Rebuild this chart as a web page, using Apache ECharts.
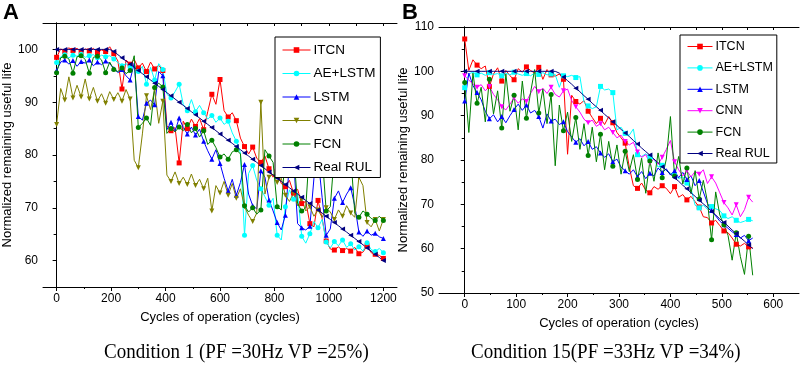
<!DOCTYPE html>
<html>
<head>
<meta charset="utf-8">
<script src="https://cdn.jsdelivr.net/npm/echarts@6/dist/echarts.min.js"></script>
<style>
html, body { margin: 0; padding: 0; background: #fff; }
#chart { width: 803px; height: 378px; }
</style>
</head>
<body>
<div id="chart"></div>
<script>
// sample grid of the traces (cycles)
var cyclesA = [];
for (var c = 0; c <= 1200; c += 15) cyclesA.push(c);
var cyclesB = [];
for (var c = 0; c <= 560; c += 8) cyclesB.push(c);

var names = ['ITCN', 'AE+LSTM', 'LSTM', 'CNN', 'FCN', 'Real RUL'];

// ---- Condition 1 ----
var itcnA = [98.5,100.1,99.6,100.3,99.8,100.2,99.5,100.1,99.7,100.2,99.4,99.9,99.6,100.5,99.2,97.8,92.5,98.0,97.2,98.1,
  96.5,97.4,95.8,97.6,96.3,97.0,96.0,85.5,84.6,85.2,78.5,86.4,85.0,86.8,85.4,86.9,84.8,88.2,91.5,89.6,
  94.3,88.4,87.2,88.0,86.5,83.2,81.6,80.2,81.5,79.4,78.6,79.8,77.4,75.8,76.9,74.6,74.0,75.2,72.8,73.5,
  70.8,71.2,67.0,66.4,71.4,68.0,63.7,62.2,62.0,62.6,61.9,62.3,61.8,62.5,61.3,61.6,62.8,61.5,61.2,61.0,60.4];
var aeA = [97.5,98.6,99.0,98.4,98.9,98.7,99.1,98.5,98.8,99.0,98.4,98.9,98.6,98.8,98.2,97.5,96.9,97.3,96.6,97.0,
  95.8,96.8,93.4,96.6,94.2,97.3,96.2,91.5,90.8,92.0,93.4,89.6,88.4,90.5,88.2,89.4,88.0,86.8,87.5,86.2,
  87.0,85.8,86.4,84.2,82.6,80.4,64.8,76.5,78.0,75.2,73.6,72.1,70.5,71.8,64.8,63.9,70.2,73.4,71.6,72.8,
  64.6,63.3,65.1,67.4,66.2,67.8,63.5,62.4,63.6,62.8,63.9,62.5,63.2,62.0,62.6,61.8,63.4,62.1,61.7,62.3,61.5];
var lstmA = [96.0,97.6,98.0,97.2,97.9,96.8,97.7,97.4,98.0,96.9,97.6,97.1,97.8,97.3,96.4,95.6,96.2,95.0,94.2,97.4,
  87.3,86.6,89.8,90.4,89.5,95.8,95.0,84.8,86.2,84.5,87.0,85.2,84.0,85.3,83.8,84.9,82.6,80.8,79.2,81.0,
  78.4,75.6,73.2,75.4,72.4,74.8,78.2,72.6,70.4,69.8,77.0,75.8,71.5,69.4,67.2,65.8,68.6,78.4,79.4,67.0,
  66.2,65.8,66.5,75.6,79.6,72.0,64.8,66.0,71.8,73.2,71.0,72.6,73.8,70.4,65.4,64.6,65.6,64.8,65.2,64.5,64.2];
var cnnA = [85.8,92.6,90.4,94.8,90.8,93.2,91.0,94.4,90.6,92.8,90.2,91.6,89.8,92.0,90.5,91.8,90.2,92.4,90.6,79.0,
  77.6,84.0,91.2,88.6,92.4,86.0,90.2,76.2,75.0,76.8,74.6,75.8,74.4,76.4,74.2,75.4,73.6,75.6,69.4,74.2,
  72.8,75.0,72.4,74.6,71.8,73.6,70.2,68.6,67.4,69.0,90.0,72.6,75.8,76.4,74.8,75.6,72.4,71.2,72.8,70.4,
  71.6,69.4,70.2,68.4,69.6,68.2,70.0,69.2,67.8,69.6,68.4,70.4,69.0,68.2,75.8,74.2,67.2,66.4,67.8,65.6,67.8];
var fcnA = [95.6,98.4,98.7,98.2,95.5,98.6,98.8,98.1,95.5,98.5,98.7,98.0,95.6,97.6,96.2,95.8,96.5,95.4,96.0,98.8,
  85.2,86.0,87.0,85.6,92.8,93.6,92.9,84.1,85.0,84.4,85.3,84.6,85.8,84.2,85.0,83.4,84.6,82.0,82.8,81.4,
  79.6,80.2,79.2,80.6,81.0,80.2,70.4,69.2,70.0,68.8,69.6,81.0,79.8,78.6,70.2,69.6,80.4,81.8,80.6,70.8,
  69.4,70.0,82.2,80.8,81.4,80.2,69.4,70.2,80.2,79.8,80.1,79.6,80.0,69.0,68.2,69.4,68.8,68.0,67.6,68.4,67.6];
var realA = [100,100,100,100,100,100,100,100,100,100,100,100,100,100,99.6,99.0,98.4,97.8,97.2,96.6,
  96.0,95.4,94.8,94.2,93.6,93.0,92.4,91.8,91.2,90.6,90.0,89.4,88.8,88.2,87.6,87.0,86.4,85.8,85.2,84.6,
  84.0,83.4,82.8,82.2,81.6,81.0,80.4,79.8,79.2,78.6,78.0,77.4,76.8,76.2,75.6,75.0,74.4,73.8,73.2,72.6,
  72.0,71.4,70.8,70.2,69.6,69.0,68.4,67.8,67.2,66.6,66.0,65.4,64.8,64.2,63.6,63.0,62.4,61.8,61.2,60.6,60.0];

// ---- Condition 15 ----
var itcnB = [107.3,100.2,102.6,101.4,100.6,101.2,96.6,99.4,100.8,97.8,100.2,99.0,98.1,100.6,99.8,101.0,100.2,99.6,100.9,98.2,
  100.4,99.2,98.9,99.4,98.2,81.3,94.6,93.2,92.6,93.4,91.0,89.6,88.2,89.4,88.0,89.8,88.4,86.2,85.0,83.8,
  78.4,74.2,73.6,74.8,73.2,72.6,74.0,73.4,74.2,73.6,72.4,74.0,71.6,72.2,71.0,71.8,70.6,69.4,67.2,67.0,
  65.8,66.4,65.2,64.0,63.6,62.4,61.0,60.6,61.2,60.4,60.2];
var aeB = [96.3,99.4,99.8,99.2,99.6,99.1,99.7,99.3,99.5,99.0,99.6,99.2,99.8,99.4,99.1,99.5,99.0,99.6,99.3,99.7,
  99.2,99.4,99.3,96.4,99.0,98.8,99.1,98.6,98.8,93.0,92.2,91.6,92.0,96.6,95.8,96.0,95.2,86.8,87.4,86.0,
  85.6,87.0,81.2,80.8,81.4,80.6,80.2,78.4,78.8,77.6,77.0,76.6,75.8,76.2,74.8,73.6,69.8,69.2,69.8,68.9,
  69.5,69.0,68.6,67.4,66.8,67.2,66.4,65.9,66.2,66.6,66.3];
var lstmB = [93.3,99.6,96.8,95.2,93.6,91.0,89.3,90.2,88.6,89.8,88.4,90.0,91.4,92.6,91.2,92.4,90.6,91.2,89.8,87.2,
  90.4,88.8,89.2,88.0,88.6,86.4,85.2,84.0,84.8,83.2,84.2,82.4,83.0,81.6,80.6,81.4,79.6,80.2,78.4,77.6,
  76.8,77.8,76.2,77.4,75.8,77.0,76.4,78.2,77.2,78.0,76.6,77.6,76.0,77.2,75.6,76.4,74.2,75.4,72.8,70.2,
  68.6,67.4,66.2,65.4,64.6,63.8,63.2,62.4,63.0,61.8,62.4];
var cnnB = [99.0,98.0,97.2,96.4,97.0,95.6,96.6,94.8,93.6,92.0,91.3,92.6,94.0,92.8,93.8,93.2,95.0,96.6,95.4,96.2,
  95.0,96.4,94.8,94.2,95.6,96.0,93.4,92.0,90.8,89.2,88.4,89.0,87.6,88.2,86.8,87.4,86.2,85.0,85.6,84.2,
  83.4,84.0,81.8,80.6,81.2,79.4,80.2,79.0,80.6,82.4,84.4,79.6,77.8,76.4,77.6,76.2,77.4,76.8,77.8,74.7,
  76.2,74.8,72.6,70.4,69.2,67.6,69.9,67.2,68.8,71.6,70.5];
var fcnB = [97.5,86.2,99.6,92.8,96.4,88.6,98.2,90.4,95.6,87.2,99.4,91.0,94.6,86.8,97.8,89.4,95.2,100.4,90.6,96.0,
  88.2,94.8,78.7,92.4,86.6,90.8,84.2,89.6,82.4,88.2,81.0,87.4,79.6,85.8,77.8,84.2,78.6,83.4,76.8,82.0,
  77.4,81.2,75.6,80.4,72.5,79.8,75.2,81.6,76.0,80.2,89.8,76.4,80.8,74.6,78.2,72.4,77.6,71.2,75.4,70.6,
  62.0,72.8,67.6,65.4,63.0,57.4,63.6,58.2,54.2,62.8,54.0];
var realB = [100,100,100,100,100,100,100,100,100,100,100,100,100,100,100,100,100,100,100,100,
  100,100,100,99.6,98.7,97.9,97.1,96.2,95.4,94.5,93.7,92.8,92.0,91.2,90.3,89.5,88.6,87.8,86.9,86.1,
  85.3,84.4,83.6,82.7,81.9,81.1,80.2,79.4,78.5,77.7,76.8,76.0,75.2,74.3,73.5,72.6,71.8,70.9,70.1,69.3,
  68.4,67.6,66.7,65.9,65.1,64.2,63.4,62.5,61.7,60.8,60.0];

var xLabelsA = [0, 200, 400, 600, 800, 1000, 1200];
var xMinorA = [100, 300, 500, 700, 900, 1100];
var yLabelsA = [60, 70, 80, 90, 100];
var yMinorA = [65, 75, 85, 95];
var xLabelsB = [0, 100, 200, 300, 400, 500, 600];
var xMinorB = [50, 150, 250, 350, 450, 550];
var yLabelsB = [50, 60, 70, 80, 90, 100, 110];
var yMinorB = [55, 65, 75, 85, 95, 105];

var colorsA = ['#ff0000', '#00ffff', '#0000ff', '#808000', '#008000', '#000080'];
var colorsB = ['#ff0000', '#00ffff', '#0000ff', '#ff00ff', '#008000', '#000080'];
var symbolsA = ['rect', 'circle', 'triangle', 'triangle', 'circle', 'triangle'];
var symbolsB = ['rect', 'rect', 'triangle', 'triangle', 'circle', 'triangle'];
var rotates = [0, 0, 0, 180, 0, 90];

var sans = '"Liberation Sans Narrow", "Liberation Sans", Arial, sans-serif';
var black = '#000';

function zip(xs, ys) {
  return ys.map(function (v, i) { return [xs[i], v]; });
}

function plain(v) { return String(v); }

function xAxes(grid, min, max, labels, minor, title, gap) {
  var all = labels.concat(minor).sort(function (a, b) { return a - b; });
  return [
    {
      gridIndex: grid, type: 'value', min: min, max: max, position: 'bottom',
      axisLine: { lineStyle: { color: black, width: 1 } },
      axisTick: { customValues: labels, length: 4, lineStyle: { color: black } },
      axisLabel: { customValues: labels, formatter: plain, color: black, fontSize: 12, fontFamily: sans, margin: 6 },
      splitLine: { show: false },
      name: title, nameLocation: 'middle', nameGap: gap,
      nameTextStyle: { color: black, fontSize: 13, fontFamily: sans }
    },
    {
      gridIndex: grid, type: 'value', min: min, max: max, position: 'bottom',
      axisLine: { show: false },
      axisTick: { customValues: minor, length: 2, lineStyle: { color: black } },
      axisLabel: { show: false }, splitLine: { show: false }
    },
    {
      gridIndex: grid, type: 'value', min: min, max: max, position: 'top',
      axisLine: { lineStyle: { color: black, width: 1 } },
      axisTick: { customValues: all, inside: true, length: 3, lineStyle: { color: black } },
      axisLabel: { show: false }, splitLine: { show: false }
    }
  ];
}

function yAxes(grid, min, max, labels, minor, title, gap) {
  var all = labels.concat(minor).sort(function (a, b) { return a - b; });
  return [
    {
      gridIndex: grid, type: 'value', min: min, max: max, position: 'left',
      axisLine: { show: true, lineStyle: { color: black, width: 1 } },
      axisTick: { show: true, customValues: labels, length: 4, lineStyle: { color: black } },
      axisLabel: { customValues: labels, formatter: plain, color: black, fontSize: 12, fontFamily: sans, margin: 5 },
      splitLine: { show: false },
      name: title, nameLocation: 'middle', nameGap: gap,
      nameTextStyle: { color: black, fontSize: 13, fontFamily: sans }
    },
    {
      gridIndex: grid, type: 'value', min: min, max: max, position: 'left',
      axisLine: { show: false },
      axisTick: { show: true, customValues: minor, length: 2, lineStyle: { color: black } },
      axisLabel: { show: false }, splitLine: { show: false }
    },
    {
      gridIndex: grid, type: 'value', min: min, max: max, position: 'right',
      axisLine: { show: true, lineStyle: { color: black, width: 1 } },
      axisTick: { show: true, customValues: all, inside: true, length: 3, lineStyle: { color: black } },
      axisLabel: { show: false }, splitLine: { show: false }
    }
  ];
}

function makeSeries(axisIdx, cycles, lists, colors, symbols, every) {
  return lists.map(function (vals, k) {
    return {
      name: names[k], type: 'line', xAxisIndex: axisIdx, yAxisIndex: axisIdx,
      data: zip(cycles, vals),
      showAllSymbol: true,
      symbol: symbols[k], symbolRotate: rotates[k],
      symbolSize: function (v, p) { return p.dataIndex % every === 0 ? 5 : 0; },
      lineStyle: { color: colors[k], width: 1 },
      itemStyle: { color: colors[k] },
      silent: true, animation: false
    };
  });
}

function legendFor(left, top, colors, fontSize, iconW, gap, pad) {
  return {
    orient: 'vertical', left: left, top: top, padding: pad,
    itemWidth: iconW, itemHeight: 7, itemGap: gap,
    borderColor: black, borderWidth: 1, backgroundColor: '#fff',
    selectedMode: false,
    textStyle: { color: black, fontSize: fontSize, fontFamily: '"Liberation Sans", Arial, sans-serif', padding: [0, 0, 0, -2] },
    data: names.map(function (n, k) {
      return { name: n, itemStyle: { color: colors[k] }, lineStyle: { color: colors[k], width: 1 } };
    })
  };
}

var chart = echarts.init(document.getElementById('chart'));

var option = {
  backgroundColor: '#fff',
  animation: false,
  grid: [
    { left: 43, top: 23, width: 354, height: 264 },
    { left: 439, top: 27, width: 360, height: 266 }
  ],
  xAxis: xAxes(0, -50, 1250, xLabelsA, xMinorA, 'Cycles of operation (cycles)', 24)
    .concat(xAxes(1, -50, 650, xLabelsB, xMinorB, 'Cycles of operation (cycles)', 24)),
  yAxis: yAxes(0, 55, 105, yLabelsA, yMinorA, 'Normalized remaining useful life', 27)
    .concat(yAxes(1, 50, 110, yLabelsB, yMinorB, 'Normalized remaining useful life', 24)),
  legend: [
    legendFor(275, 37, colorsA, 13.5, 28, 9.5, [6, 5, 3, 7]),
    legendFor(680, 35, colorsB, 12.5, 25, 8.4, [5, 4, 3, 7])
  ],
  series: makeSeries(0, cyclesA, [itcnA, aeA, lstmA, cnnA, fcnA, realA], colorsA, symbolsA, 2)
    .concat(makeSeries(3, cyclesB, [itcnB, aeB, lstmB, cnnB, fcnB, realB], colorsB, symbolsB, 3)),
  graphic: [
    { type: 'text', left: 3, top: 2, style: { text: 'A', fontSize: 22, fontWeight: 'bold', fontFamily: '"Liberation Sans", Arial', fill: black } },
    { type: 'text', left: 402, top: 2, style: { text: 'B', fontSize: 22, fontWeight: 'bold', fontFamily: '"Liberation Sans", Arial', fill: black } },
    { type: 'text', left: 104, top: 343, scaleX: 0.95, style: { text: 'Condition 1 (PF =30Hz VP =25%)', fontSize: 20, fontFamily: '"Liberation Serif", "Times New Roman", serif', fill: black } },
    { type: 'text', left: 471, top: 343, scaleX: 0.95, style: { text: 'Condition 15(PF =33Hz VP =34%)', fontSize: 20, fontFamily: '"Liberation Serif", "Times New Roman", serif', fill: black } }
  ]
};

chart.setOption(option);
window.addEventListener('resize', function () {
  chart.resize();
});
</script>
</body>
</html>
